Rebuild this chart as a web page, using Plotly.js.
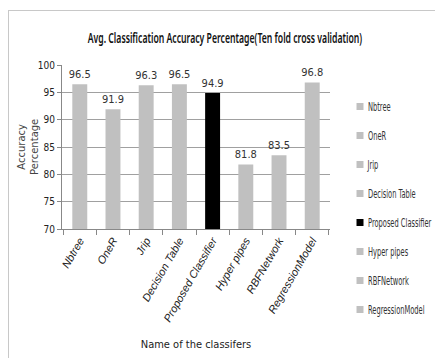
<!DOCTYPE html>
<html>
<head>
<meta charset="utf-8">
<script src="https://cdn.plot.ly/plotly-3.0.1.min.js"></script>
<style>
html,body{margin:0;padding:0;background:#fff;}
#wrap{position:relative;width:435px;height:358px;}
#chart{width:435px;height:358px;}
#frame{position:absolute;left:8px;top:10px;width:440px;height:360px;border:1px solid #c8c8c8;pointer-events:none;}
.legendtext{transform-box:fill-box;transform-origin:left center;transform:translateX(-12px) scaleX(0.62);}
.gtitle{transform-box:fill-box;transform-origin:center;transform:scaleX(0.62);}
.xtick text{font-style:italic !important;}
</style>
</head>
<body>
<div id="wrap"><div id="chart"></div><div id="frame"></div></div>
<script>
const categories = ["Nbtree","OneR","Jrip","Decision Table","Proposed Classifier","Hyper pipes","RBFNetwork","RegressionModel"];
const values = [96.5, 91.9, 96.3, 96.5, 94.9, 81.8, 83.5, 96.8];
const colors = ["#c0c0c0","#c0c0c0","#c0c0c0","#c0c0c0","#000000","#c0c0c0","#c0c0c0","#c0c0c0"];
const yTicks = [70,75,80,85,90,95,100];

const FONT = "DejaVu Sans Condensed, Liberation Sans, sans-serif";

const bars = categories.map((c,i)=>({
  type:'bar',
  x:[c], y:[values[i]],
  name:c,
  showlegend:false,
  marker:{color:colors[i]},
  width:0.45,
  text:[values[i].toFixed(1)],
  textposition:'outside',
  constraintext:'none',
  textfont:{family:FONT,size:11,color:'#333'},
  cliponaxis:false,
  hoverinfo:'none'
}));
const legendItems = categories.map((c,i)=>({
  type:'scatter', mode:'markers',
  x:[c], y:[null],
  name:c, legendgroup:'g'+i,
  marker:{color:colors[i], symbol:'square', size:7},
  hoverinfo:'none'
}));

const layout = {
  width:435, height:358,
  margin:{l:62,r:105,t:65,b:129},
  paper_bgcolor:'rgba(0,0,0,0)', plot_bgcolor:'#fff',
  barmode:'overlay',
  showlegend:true,
  title:{text:'Avg. Classification Accuracy Percentage(Ten fold cross validation)',
    font:{family:'Noto Sans, sans-serif',size:14,color:'#111',weight:600}, x:0.517, xref:'container', xanchor:'center', y:1-38/358, yref:'container', yanchor:'middle'},
  legend:{xref:'container', yref:'container', x:340/435, xanchor:'left', y:1-92/358, yanchor:'top',
    font:{family:FONT,size:12,color:'#333'}, maxheight:400,
    tracegroupgap:10, itemwidth:30, bgcolor:'rgba(0,0,0,0)'},
  xaxis:{type:'category', tickangle:-60, tickfont:{family:'Liberation Sans, sans-serif',size:11,color:'#222',style:'italic'},
    ticks:'outside', ticklen:5, tickcolor:'#888', showline:true, linecolor:'#888', linewidth:1,
    tickson:'boundaries', showgrid:false, automargin:false,
    title:{text:'Name of the classifers', font:{family:FONT,size:11,color:'#222'}, standoff:17}},
  yaxis:{range:[70,100], tickvals:yTicks, ticks:'outside', ticklen:4, tickcolor:'#888',
    showline:true, linecolor:'#888', gridcolor:'#a0a0a0', gridwidth:1, automargin:false,
    tickfont:{family:FONT,size:10,color:'#222'}, zeroline:false},
  annotations:[{text:'Accuracy<br>Percentage', xref:'paper', yref:'paper', x:(28-62)/268, y:0.5,
    xanchor:'center', yanchor:'middle', textangle:-90, showarrow:false,
    font:{family:'DejaVu Sans, sans-serif',size:10,color:'#444'}}]
};

Plotly.newPlot('chart', bars.concat(legendItems), layout, {displayModeBar:false, staticPlot:true});
</script>
</body>
</html>
